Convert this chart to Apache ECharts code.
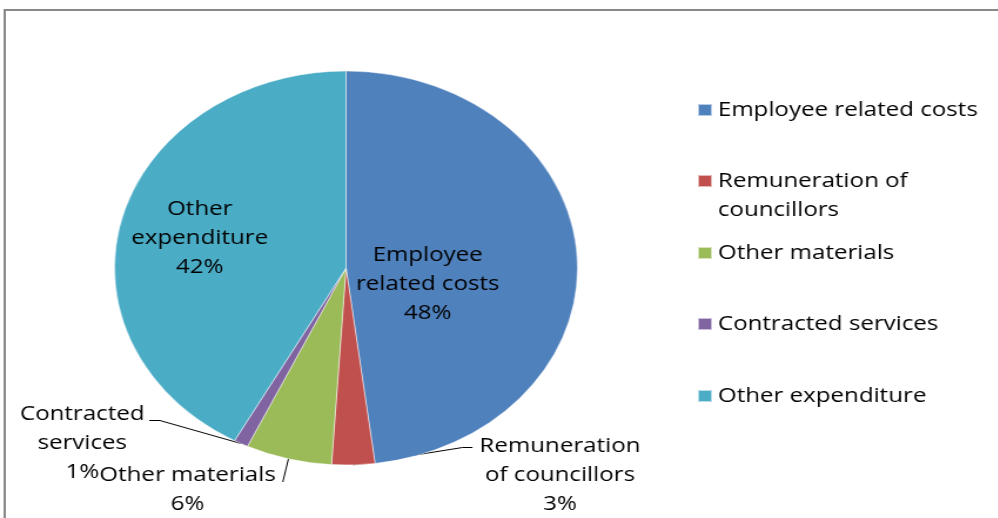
<!DOCTYPE html>
<html>
<head>
<meta charset="utf-8">
<script src="https://cdn.jsdelivr.net/npm/echarts@6/dist/echarts.min.js"></script>
<style>
  html, body { margin: 0; padding: 0; background: #fff; }
  #wrap { position: relative; width: 998px; height: 518px; overflow: hidden; background: #fff; }
  #chart { position: absolute; left: 0; top: 0; height: 518px; transform-origin: 0 0; }
</style>
</head>
<body>
<div id="wrap"><div id="chart"></div></div>
<script>
// Expenditure breakdown (percent of total)
const categories = ['Employee related costs', 'Remuneration of councillors', 'Other materials', 'Contracted services', 'Other expenditure'];
const shares = [48, 3, 6, 1, 42];
const legendText = ['Employee related costs', 'Remuneration of\ncouncillors', 'Other materials', 'Contracted services', 'Other expenditure'];
const sliceText = ['Employee\nrelated costs', 'Remuneration\nof councillors', 'Other materials', 'Contracted\nservices', 'Other\nexpenditure'];
const colors = ['#4F81BD', '#C0504D', '#9BBB59', '#8064A2', '#4BACC6'];

// The whole figure is drawn with a horizontal stretch, so the pie is an ellipse.
const STRETCH = 1.175;
const W = 998 / STRETCH;
const el = document.getElementById('chart');
el.style.width = W + 'px';
el.style.transform = 'scaleX(' + STRETCH + ')';

const FONT = "'Open Sans', sans-serif";
const FS = 20.5;
const LH = 29;

// label anchor points (unstretched px) and legend first-line centres
const labelPos = [[364, 284.5], [476.6, 475], [159.6, 489.5], [70, 443.5], [170, 238]];
const legendRowY = [110, 181, 253, 324, 396];
const insideSlices = [0, 4];

const legends = categories.map((name, i) => {
  const lines = legendText[i].split('\n').length;
  // a blank leading line keeps the marker level with the first text line
  const text = lines > 1 ? '\n' + legendText[i] : legendText[i];
  const blockH = (lines > 1 ? lines + 1 : 1) * LH;
  return {
    data: [name],
    orient: 'vertical',
    left: 593,
    top: legendRowY[i] - blockH / 2,
    icon: 'rect',
    itemWidth: 12,
    itemHeight: 12,
    itemGap: 0,
    padding: 0,
    selectedMode: false,
    formatter: () => text,
    textStyle: { fontFamily: FONT, fontSize: FS, color: '#000', lineHeight: LH }
  };
});

// leader lines run from the slice edge to the label's first line
function leader(i, anchor, x, y, w, h) {
  const line1 = y - h / 2 + LH / 2;
  const left = x - w / 2, right = x + w / 2;
  if (i === 1) return [anchor, [left - 14.5, line1 + 1.5], [left - 6, line1 + 1.5]];
  if (i === 2) return [anchor, [right + 6, line1 + 7]];
  if (i === 3) return [anchor, [right + 13, line1 + 6], [right + 4, line1 + 6]];
  return null;
}

const chart = echarts.init(el, null, { renderer: 'canvas' });
chart.setOption({
  animation: false,
  color: colors,
  graphic: [{
    type: 'rect',
    shape: { x: 4, y: 10, width: W + 20, height: 600 },
    style: { fill: 'none', stroke: '#888', lineWidth: 2 },
    silent: true
  }],
  legend: legends,
  series: [{
    type: 'pie',
    center: [294.5, 268],
    radius: 197,
    startAngle: 90,
    clockwise: true,
    avoidLabelOverlap: false,
    itemStyle: { borderColor: 'rgba(255,255,255,0.6)', borderWidth: 0.8 },
    label: {
      show: true,
      position: 'outside',
      fontFamily: FONT,
      fontSize: FS,
      lineHeight: LH,
      color: '#000',
      align: 'center',
      formatter: p => sliceText[p.dataIndex] + '\n' + p.value + '%'
    },
    labelLine: { show: true, length: 12, length2: 10, lineStyle: { color: '#000', width: 1 } },
    labelLayout: p => {
      const i = p.dataIndex;
      const x = labelPos[i][0], y = labelPos[i][1];
      const out = { x: x, y: y, align: 'center', verticalAlign: 'middle' };
      const anchor = p.labelLinePoints && p.labelLinePoints[0];
      if (anchor) {
        const pts = leader(i, anchor, x, y, p.labelRect.width, p.labelRect.height);
        if (pts) out.labelLinePoints = pts;
      }
      return out;
    },
    data: categories.map((name, i) => {
      const d = { name: name, value: shares[i] };
      if (insideSlices.indexOf(i) >= 0) {
        d.label = { position: 'inside' };
        d.labelLine = { show: false };
      }
      return d;
    })
  }]
});
</script>
</body>
</html>
